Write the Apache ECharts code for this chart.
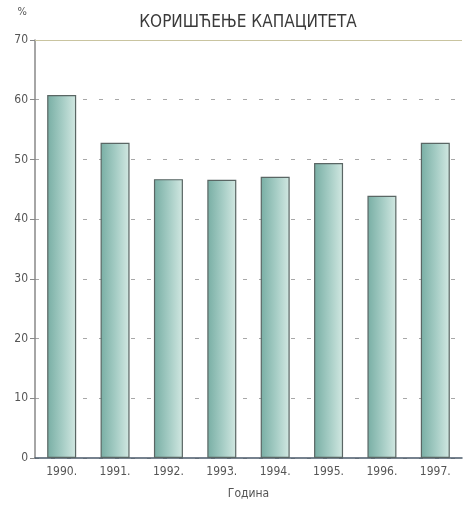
<!DOCTYPE html>
<html><head><meta charset="utf-8">
<script src="https://cdn.jsdelivr.net/npm/echarts@6/dist/echarts.min.js"></script>
<style>html,body{margin:0;padding:0;background:#fff}#c{width:463px;height:505px}</style>
</head><body><div id="c"></div>
<script>
const title = 'КОРИШЋЕЊЕ КАПАЦИТЕТА';
const yName = '%';
const xName = 'Година';
const categories = ['1990.', '1991.', '1992.', '1993.', '1994.', '1995.', '1996.', '1997.'];
const values = [60.8, 52.8, 46.7, 46.6, 47.1, 49.4, 43.9, 52.8];
const yTicks = [0, 10, 20, 30, 40, 50, 60, 70];

const font = '"Liberation Sans Narrow","DejaVu Sans Condensed","Liberation Sans",sans-serif';
const chart = echarts.init(document.getElementById('c'), null, {renderer: 'canvas'});
chart.setOption({
  animation: false,
  title: {text: title, left: 243, top: 9, textAlign: 'center',
    textStyle: {fontFamily: font, fontSize: 17, fontWeight: 'normal', color: '#3a3a3a'}},
  grid: {left: 35, right: 1, top: 40, bottom: 40, containLabel: false},
  xAxis: {
    type: 'category', data: categories,
    name: xName, nameLocation: 'middle', nameGap: 30,
    nameTextStyle: {fontFamily: font, fontSize: 12, color: '#555'},
    axisLine: {lineStyle: {color: '#4a5a6a', width: 1.5}},
    axisTick: {show: false},
    axisLabel: {fontFamily: font, fontSize: 12, color: '#555', margin: 8}
  },
  yAxis: {
    type: 'value', min: 0, max: 70, interval: 10,
    name: yName, nameLocation: 'end', nameGap: 22,
    nameTextStyle: {fontFamily: font, fontSize: 11, color: '#555', align: 'right', padding: [0, 8, 0, 0]},
    axisLine: {show: true, lineStyle: {color: '#888', width: 1.5}},
    axisTick: {show: true, inside: false, length: 5, lineStyle: {color: '#888'}},
    axisLabel: {fontFamily: font, fontSize: 12, color: '#555', margin: 7,
      formatter: v => yTicks.includes(v) ? String(v) : ''},
    splitLine: {show: true, lineStyle: {color: '#a8a8a8', type: [4, 12], width: 1}}
  },
  series: [{
    type: 'bar', data: values, barWidth: 29,
    itemStyle: {
      borderColor: '#5a6664', borderWidth: 1.2,
      color: new echarts.graphic.LinearGradient(0, 0, 1, 0, [
        {offset: 0, color: '#78aea4'},
        {offset: 0.5, color: '#a3cbc3'},
        {offset: 1, color: '#d2e8e2'}
      ])
    },
    markLine: {silent: true, symbol: 'none', label: {show: false},
      lineStyle: {color: '#c9c4a0', type: 'solid', width: 1.2},
      data: [{yAxis: 70}]}
  }]
});
</script></body></html>
